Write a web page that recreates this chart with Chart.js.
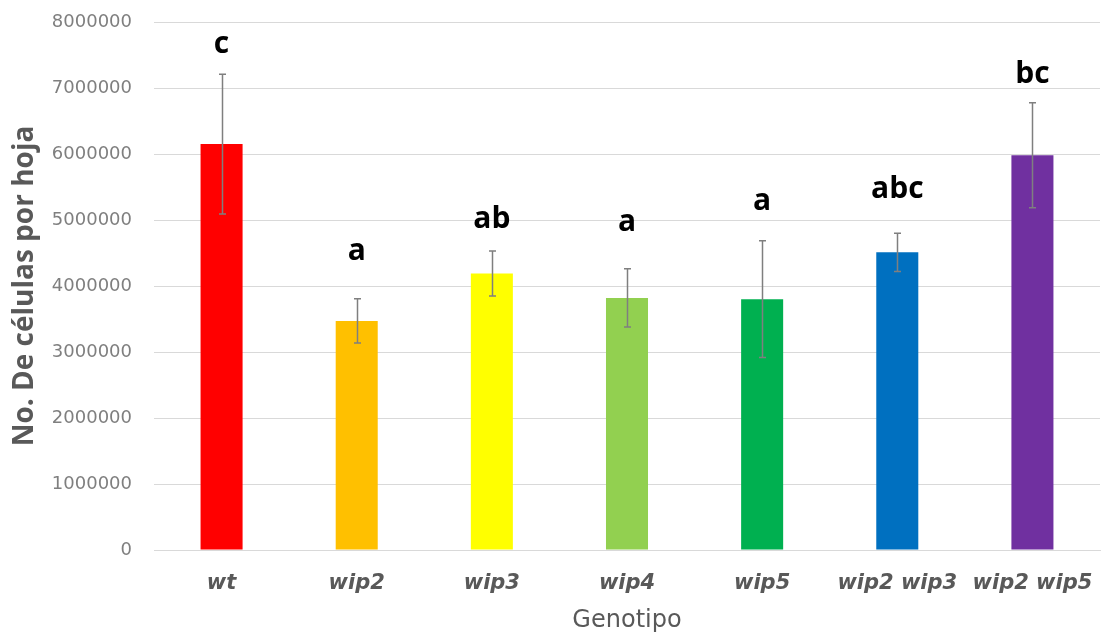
<!DOCTYPE html>
<html lang="es">
<head>
<meta charset="utf-8">
<title>No. De células por hoja por genotipo</title>
<script src="https://cdn.jsdelivr.net/npm/chart.js@4.4.1/dist/chart.umd.min.js"></script>
<style>
  html, body { margin: 0; padding: 0; background: #ffffff; }
  #wrap { width: 1102px; height: 637px; position: relative; }
</style>
</head>
<body>
<div id="wrap"><canvas id="chart" width="1102" height="637"></canvas></div>
<script>
// Genotypes on the x axis
const genotypes = ['wt', 'wip2', 'wip3', 'wip4', 'wip5', 'wip2 wip3', 'wip2 wip5'];
// Mean number of cells per leaf
const cellCounts = [6150000, 3470000, 4190000, 3820000, 3800000, 4510000, 5980000];
// Error bar half-lengths
const cellErrors = [1060000, 335000, 340000, 440000, 885000, 290000, 795000];
// Significance groups drawn above each bar, and the value at which each sits
const groupLetters = ['c', 'a', 'ab', 'a', 'a', 'abc', 'bc'];
const letterLevels = [7530000, 4390000, 4880000, 4830000, 5150000, 5330000, 7080000];
// Y axis ticks
const yTicks = [0, 1000000, 2000000, 3000000, 4000000, 5000000, 6000000, 7000000, 8000000];

const barColors = ['#FF0000', '#FFC000', '#FFFF00', '#92D050', '#00B050', '#0070C0', '#7030A0'];

// Draws the error bars and the group letters from the data values
const annotations = {
  id: 'annotations',
  afterDatasetsDraw(chart) {
    const { ctx } = chart;
    const xs = chart.scales.x, ys = chart.scales.y;
    ctx.save();
    ctx.strokeStyle = '#7f7f7f';
    ctx.lineWidth = 1.5;
    cellCounts.forEach((v, i) => {
      const x = Math.round(xs.getPixelForValue(i)) + 0.5;
      const yTop = ys.getPixelForValue(v + cellErrors[i]);
      const yBot = ys.getPixelForValue(v - cellErrors[i]);
      ctx.beginPath();
      ctx.moveTo(x, yTop); ctx.lineTo(x, yBot);
      ctx.moveTo(x - 3.5, yTop); ctx.lineTo(x + 3.5, yTop);
      ctx.moveTo(x - 3.5, yBot); ctx.lineTo(x + 3.5, yBot);
      ctx.stroke();
    });
    ctx.fillStyle = '#000000';
    ctx.font = 'bold 30px "Open Sans"';
    ctx.textAlign = 'center';
    ctx.textBaseline = 'alphabetic';
    groupLetters.forEach((t, i) => {
      ctx.fillText(t, xs.getPixelForValue(i), ys.getPixelForValue(letterLevels[i]));
    });
    ctx.restore();
  }
};

new Chart(document.getElementById('chart'), {
  type: 'bar',
  data: {
    labels: genotypes,
    datasets: [{
      data: cellCounts,
      backgroundColor: barColors,
      borderWidth: 0,
      categoryPercentage: 1,
      barPercentage: 0.311
    }]
  },
  options: {
    responsive: false,
    animation: false,
    layout: { padding: { top: 22, right: 2, left: 0, bottom: 0 } },
    plugins: { legend: { display: false }, tooltip: { enabled: false } },
    scales: {
      x: {
        grid: { display: false, drawTicks: false },
        border: { display: true, color: '#d9d9d9', width: 1 },
        ticks: {
          color: '#595959',
          font: { family: '"DejaVu Sans"', size: 21, weight: 'bold', style: 'italic' },
          padding: 21,
          maxRotation: 0,
          autoSkip: false
        },
        title: {
          display: true,
          text: 'Genotipo',
          color: '#595959',
          font: { family: '"DejaVu Sans"', size: 24 },
          padding: { top: 0, bottom: 2 }
        },
        afterFit(scale) {
          scale.height = 87;
          scale.paddingLeft = 0;
          scale.paddingRight = 0;
        }
      },
      y: {
        min: 0,
        max: 8000000,
        afterBuildTicks(scale) { scale.ticks = yTicks.map(v => ({ value: v })); },
        grid: { color: '#d9d9d9', lineWidth: 1, drawTicks: false },
        border: { display: false },
        ticks: {
          color: '#7f7f7f',
          font: { family: '"DejaVu Sans"', size: 18 },
          padding: 22,
          callback: v => String(v)
        },
        title: {
          display: true,
          text: 'No. De células por hoja',
          color: '#595959',
          font: { family: '"Open Sans"', size: 28, weight: 'bold' },
          padding: { top: 8, bottom: 0 }
        },
        afterFit(scale) {
          scale.width = 154;
          scale.paddingTop = 0;
          scale.paddingBottom = 0;
        }
      }
    }
  },
  plugins: [annotations]
});
</script>
</body>
</html>
